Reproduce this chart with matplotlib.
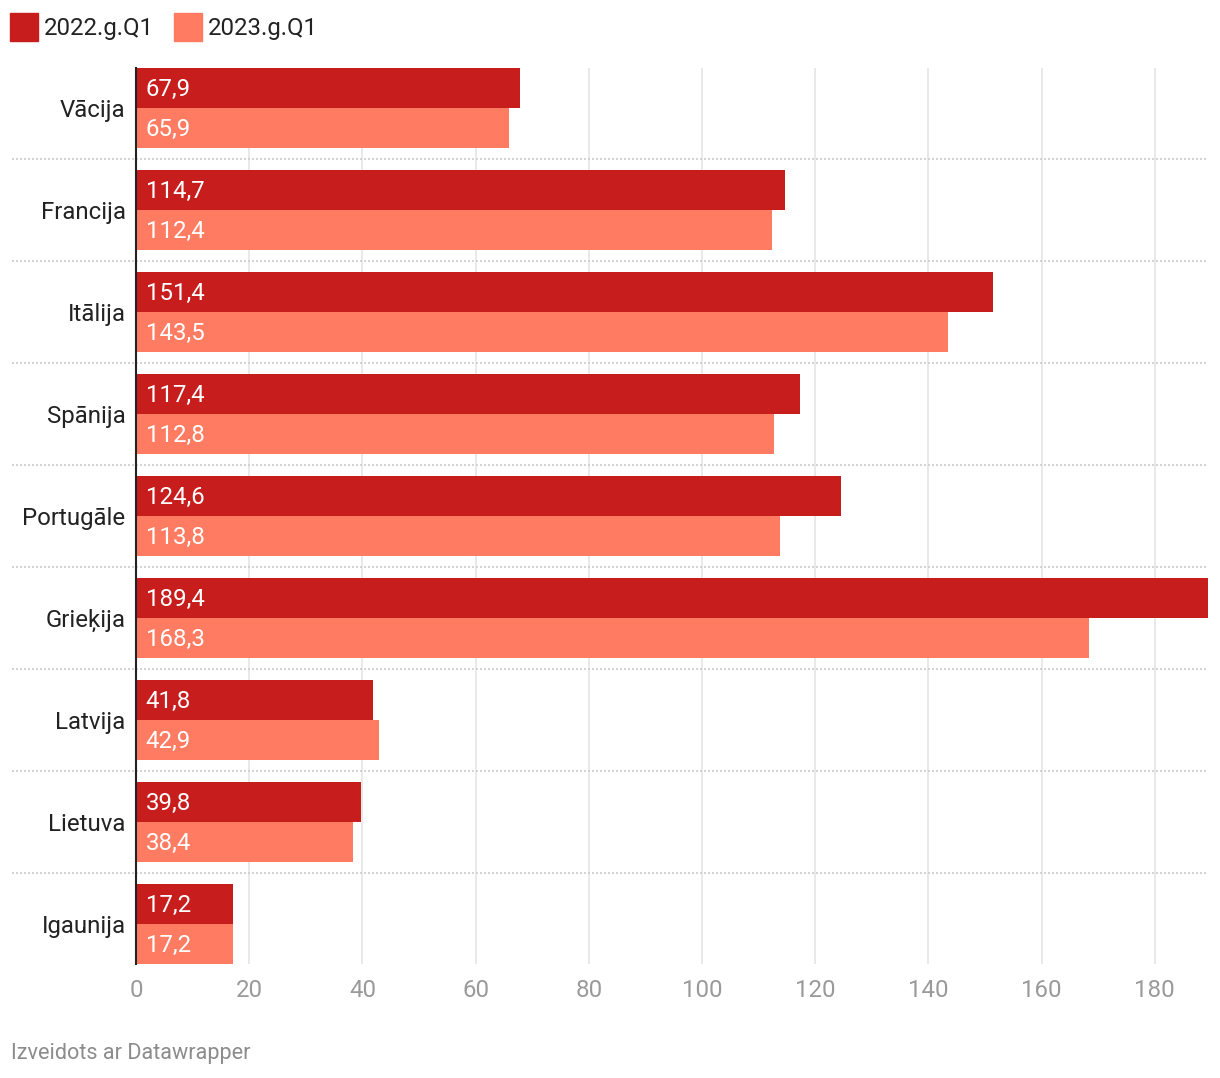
import numpy as np
import matplotlib
matplotlib.use('Agg')
import matplotlib.pyplot as plt
from matplotlib.patches import Rectangle

# =============================================================================
# DATA
# =============================================================================
countries = ['Vācija', 'Francija', 'Itālija', 'Spānija', 'Portugāle',
             'Grieķija', 'Latvija', 'Lietuva', 'Igaunija']
q1_2022 = [67.9, 114.7, 151.4, 117.4, 124.6, 189.4, 41.8, 39.8, 17.2]
q1_2023 = [65.9, 112.4, 143.5, 112.8, 113.8, 168.3, 42.9, 38.4, 17.2]
series_names = ['2022.g.Q1', '2023.g.Q1']
xticks = [0, 20, 40, 60, 80, 100, 120, 140, 160, 180]

# =============================================================================
# STYLE
# =============================================================================
plt.rcParams['font.family'] = ['Roboto', 'DejaVu Sans']
c_dark = '#c71e1d'
c_light = '#ff7c63'
txt = '#222222'
fs = 17.3
W, H = 1220, 1078

fig = plt.figure(figsize=(W / 100, H / 100), dpi=100)
ax = fig.add_axes([136 / W, 1 - 964 / H, (1208 - 136) / W, (964 - 68) / H])

y = np.arange(len(countries))
bh = 40 / 102.
ax.barh(y - bh / 2, q1_2022, height=bh, color=c_dark, zorder=3)
ax.barh(y + bh / 2, q1_2023, height=bh, color=c_light, zorder=3)

# value labels inside bars
for i in range(len(countries)):
    for v, off in ((q1_2022[i], -bh / 2), (q1_2023[i], bh / 2)):
        ax.annotate(('%.1f' % v).replace('.', ','), (0, i + off),
                    xytext=(7, -1), textcoords='offset points',
                    color='white', fontsize=fs, va='center', ha='left',
                    zorder=5)

ax.set_xlim(0, 189.4)
ax.set_ylim(len(countries) - 1 + bh, -bh)

# grid + separators
for xt in xticks[1:]:
    ax.axvline(xt, color='#e3e3e3', lw=1.1, zorder=1)
for i in range(len(countries) - 1):
    ax.axhline(i + 0.5, xmin=(12 - 136) / (1208 - 136), xmax=1,
               color='#cccccc', lw=1.2, ls=(0, (1.2, 1.2)), clip_on=False,
               zorder=2)

for s in ['top', 'right', 'bottom']:
    ax.spines[s].set_visible(False)
ax.spines['left'].set_color('#222222')
ax.spines['left'].set_linewidth(1.5)
ax.spines['left'].set_zorder(6)

ax.set_yticks(y)
ax.set_yticklabels(countries, fontsize=fs, color=txt)
ax.tick_params(axis='y', length=0, pad=7.5)
ax.set_xticks(xticks)
ax.set_xticklabels([str(t) for t in xticks], fontsize=fs, color='#9a9a9a')
ax.tick_params(axis='x', length=0, pad=11)

# legend
for k, (name, col) in enumerate(zip(series_names, [c_dark, c_light])):
    x0 = 10 + k * 164
    fig.add_artist(Rectangle((x0 / W, 1 - 41 / H), 28 / W, 28 / H,
                             transform=fig.transFigure, color=col))
    fig.text((x0 + 34) / W, 1 - 28 / H, name, fontsize=fs, color=txt,
             va='center', ha='left')

fig.text(11 / W, 1 - 1053 / H, 'Izveidots ar Datawrapper', fontsize=15.6,
         color='#8c8c8c', va='center', ha='left')

fig.savefig('out.png', dpi=100)
plt.close()
